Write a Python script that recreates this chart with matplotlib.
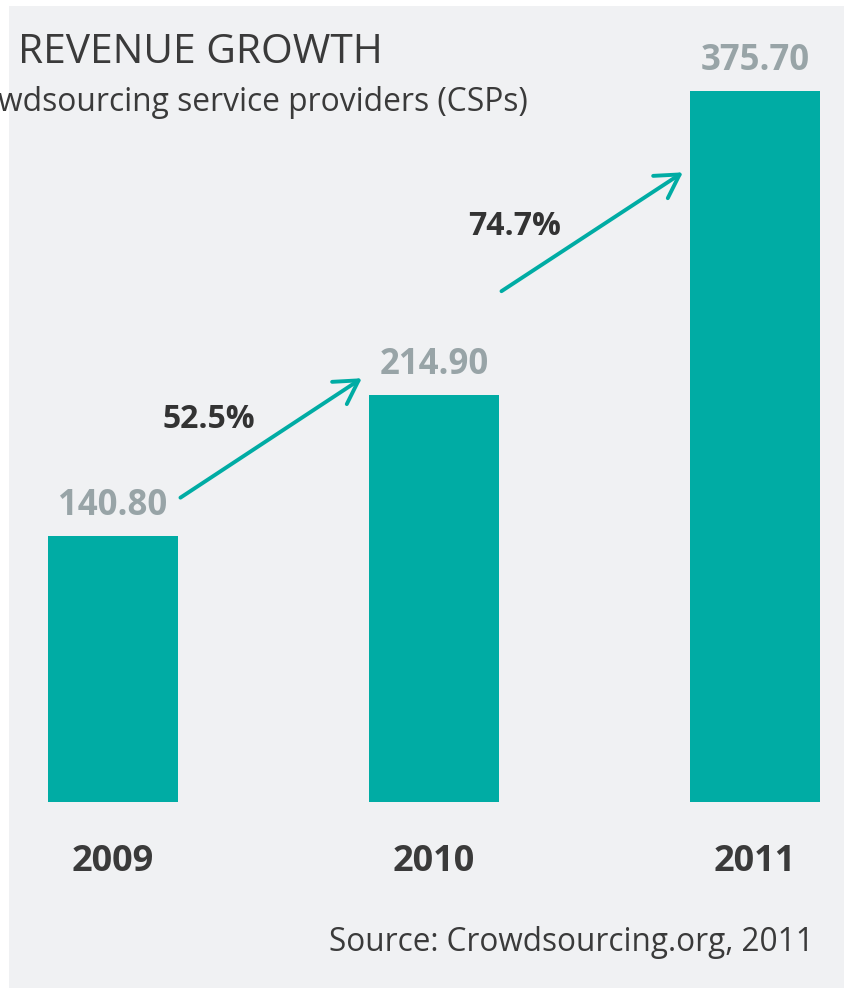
import matplotlib

matplotlib.use("Agg")
import matplotlib.pyplot as plt  # noqa: E402

# data
years = ["2009", "2010", "2011"]
revenue = [140.80, 214.90, 375.70]
growth = ["52.5%", "74.7%"]

TEAL = "#00aca4"
PANEL = "#f0f1f3"
GREY = "#98a4a7"
DARK = "#3a3a3a"
FONT = ["Open Sans", "DejaVu Sans"]

W, H, DPI = 845, 988, 100
fig = plt.figure(figsize=(W / DPI, H / DPI), dpi=DPI, facecolor="white")
# grey panel, image is cropped on the left/top so texts get clipped
ax = fig.add_axes([9 / W, 0, (W - 9) / W, (H - 6) / H])
ax.set_facecolor(PANEL)
for s in ax.spines.values():
    s.set_visible(False)
ax.set_xticks([])
ax.set_yticks([])
ax.set_xlim(-0.324, 2.280)
ax.set_ylim(-98.3, 420.6)

xs = range(len(years))
ax.bar(xs, revenue, width=0.405, color=TEAL, zorder=2)

for i, v in enumerate(revenue):
    ax.annotate(f"{v:.2f}", (i, v), xytext=(0, 21), textcoords="offset pixels",
                ha="center", va="baseline", fontsize=25, fontweight="bold",
                color=GREY, family=FONT)
    ax.annotate(years[i], (i, 0), xytext=(0, -69), textcoords="offset pixels",
                ha="center", va="baseline", fontsize=26, fontweight="bold",
                color=DARK, family=FONT)

# growth arrows between bars: (start dy, end dy) relative to bar values
arrow_dy = [(20, 9), (55, -43)]
label_pos = [(0.299, 197.6), (1.252, 299.6)]
for i, g in enumerate(growth):
    y0 = revenue[i] + arrow_dy[i][0]
    y1 = revenue[i + 1] + arrow_dy[i][1]
    ax.annotate("", xy=(i + 1 - 0.225, y1), xytext=(i + 0.21, y0),
                arrowprops=dict(arrowstyle="->,head_length=0.55,head_width=0.32",
                                color=TEAL, lw=2.8, mutation_scale=30,
                                shrinkA=0, shrinkB=0, capstyle="round"))
    lx, ly = label_pos[i]
    ax.text(lx, ly, g, ha="center", va="baseline", fontsize=23,
            fontweight="bold", color="#333333", family=FONT)

title = ax.text(18 / W, 1 - 63 / H, "REVENUE GROWTH", transform=fig.transFigure,
                fontsize=29.3, color=DARK, family=FONT, ha="left", va="baseline")
sub = ax.text(528 / W, 1 - 111 / H, "wdsourcing service providers (CSPs)",
              transform=fig.transFigure, fontsize=22.9, color=DARK, family=FONT,
              ha="right", va="baseline")
for t in (title, sub):
    t.set_clip_path(ax.patch)

ax.text(814 / W, 1 - 951 / H, "Source: Crowdsourcing.org, 2011",
        transform=fig.transFigure, fontsize=22.7, color=DARK, family=FONT,
        ha="right", va="baseline")

fig.savefig("out.png", dpi=DPI, facecolor="white")
